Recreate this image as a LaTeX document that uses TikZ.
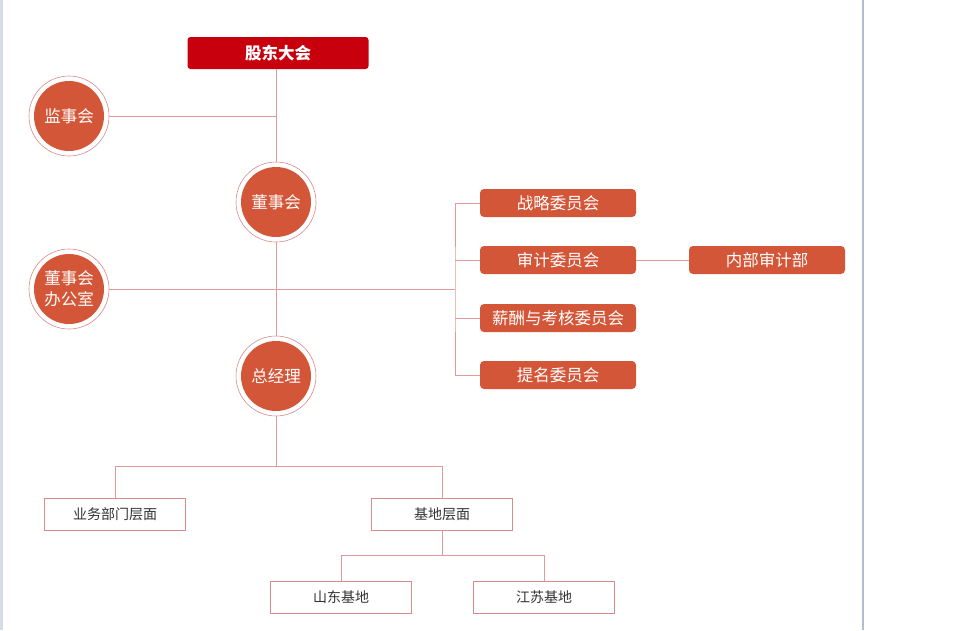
\documentclass[tikz,border=0pt]{standalone}
\usepackage{fontspec}
\setmainfont{Noto Sans CJK SC}
\definecolor{topred}{HTML}{C8000E}
\definecolor{orgred}{HTML}{D45638}
\definecolor{linkcol}{HTML}{E3999B}
\definecolor{ringcol}{HTML}{D98A8C}
\definecolor{greytext}{HTML}{333333}
\definecolor{edgeleft}{HTML}{D3DCE8}
\definecolor{edgeright}{HTML}{B4BCD0}
\begin{document}
\begin{tikzpicture}[x=1pt,y=-1pt,
  hub/.style={circle,draw=ringcol,line width=.6pt,fill=white,minimum size=80pt,inner sep=0pt,
    text=white,align=center,font=\fontsize{16.5}{20}\selectfont,
    path picture={\fill[orgred] (path picture bounding box.center) circle (35pt);}},
  cmte/.style={rectangle,rounded corners=4pt,fill=orgred,text=white,minimum width=156pt,
    minimum height=28pt,font=\fontsize{16.5}{19}\selectfont},
  level/.style={rectangle,draw=ringcol,line width=.8pt,fill=white,text=greytext,
    minimum width=141pt,minimum height=32pt,font=\fontsize{14}{17}\selectfont},
  link/.style={draw=linkcol,line width=.8pt}]
\useasboundingbox (0,0) rectangle (960,630);
\fill[edgeleft] (0,0) rectangle (3,630);
\fill[edgeright] (862,0) rectangle (864,630);
%
\node[rectangle,rounded corners=3pt,fill=topred,text=white,minimum width=181pt,minimum height=32pt,
  font=\fontsize{16.5}{19}\selectfont\bfseries] (gd) at (278,53) {股东大会};
\node[hub] (jsh) at (69,116) {监事会};
\node[hub] (dsh) at (276,202) {董事会};
\node[hub] (ofc) at (69,289) {董事会\\[1pt]办公室};
\node[hub] (zjl) at (276,376) {总经理};
%
\node[cmte] (zl) at (558,203) {战略委员会};
\node[cmte] (sj) at (558,260) {审计委员会};
\node[cmte] (xc) at (558,318) {薪酬与考核委员会};
\node[cmte] (tm) at (558,375) {提名委员会};
\node[cmte] (nb) at (767,260) {内部审计部};
%
\node[level] (yw) at (115,514) {业务部门层面};
\node[level] (jd) at (442,514) {基地层面};
\node[level] (sd) at (341,597) {山东基地};
\node[level] (js) at (544,597) {江苏基地};
%
\coordinate (bus) at (455,289);
\coordinate (split) at (276,466);
\coordinate (split2) at (442,555);
%
\draw[link] (gd.south -| dsh) -- (dsh);
\draw[link] (jsh) -- (jsh -| dsh);
\draw[link] (dsh) -- (zjl);
\draw[link] (ofc) -- (bus);
\draw[link] (zl.west) -| (bus) |- (tm.west);
\draw[link] (sj.west) -- (sj -| bus);
\draw[link] (xc.west) -- (xc -| bus);
\draw[link] (sj) -- (nb);
\draw[link] (zjl) -- (split);
\draw[link] (yw.north) |- (split) -| (jd.north);
\draw[link] (jd) -- (split2);
\draw[link] (sd.north) |- (split2) -| (js.north);
\end{tikzpicture}
\end{document}
